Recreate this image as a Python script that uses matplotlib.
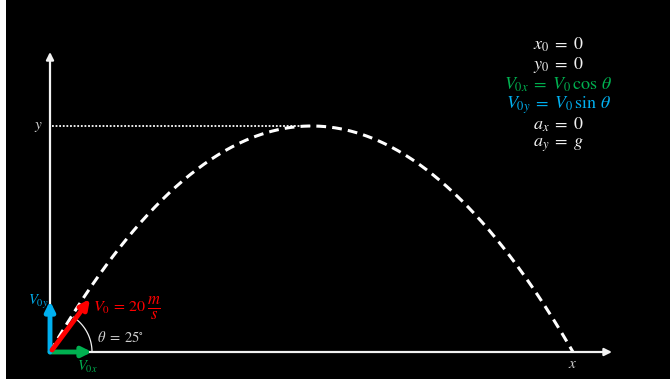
import numpy as np
import matplotlib
matplotlib.use("Agg")
import matplotlib.pyplot as plt

# projectile parameters (from the chart text)
V0 = 20.0          # m/s
THETA_DEG = 25.0   # launch angle
G = 9.8            # m/s^2

# equation panel (top right)
EQ_LINES = [
    r"$x_0 \;=\; 0$",
    r"$y_0 \;=\; 0$",
    r"$V_{0x} \;=\; V_0\,\cos\,\theta$",
    r"$V_{0y} \;=\; V_0\,\sin\,\theta$",
    r"$a_x \;=\; 0$",
    r"$a_y \;=\; g$",
]
EQ_COLORS = ["#f2f2f2", "#f2f2f2", "#00b050", "#00b0f0", "#f2f2f2", "#f2f2f2"]

WHITE = "#f2f2f2"
GREY = "#d0d0d0"
GREEN = "#00b050"
BLUE = "#00b0f0"
RED = "#ff0000"

plt.rcParams["mathtext.fontset"] = "stix"

theta = np.radians(THETA_DEG)
t_flight = 2 * V0 * np.sin(theta) / G
t = np.linspace(0, t_flight, 300)
traj_x = V0 * np.cos(theta) * t
traj_y = V0 * np.sin(theta) * t - 0.5 * G * t ** 2
R = traj_x[-1]
H = (V0 * np.sin(theta)) ** 2 / (2 * G)

# figure layout in pixels (origin of the diagram at 50, 352 from top-left)
W, HPX = 670, 379
OX, OY = 50, 352
sx = (573 - OX) / R      # px per metre horizontally
sy = (OY - 126) / H      # px per metre vertically

fig = plt.figure(figsize=(W / 100, HPX / 100), dpi=100, facecolor="white")
ax = fig.add_axes([6 / W, 0, (W - 6) / W, 1])
ax.set_facecolor("black")
ax.set_xlim((6 - OX) / sx, (W - OX) / sx)
ax.set_ylim(-(HPX - OY) / sy, OY / sy)
ax.set_xticks([])
ax.set_yticks([])
for s in ax.spines.values():
    s.set_visible(False)


def px(dx, dy):
    """pixel offset from origin (right, up) -> data coordinates"""
    return dx / sx, dy / sy


# axes arrows
ax.annotate("", xy=px(562, 0), xytext=(0, 0),
            arrowprops=dict(arrowstyle="-|>", color=WHITE, lw=1.6,
                            mutation_scale=11, shrinkA=0, shrinkB=0))
ax.annotate("", xy=px(0, 300), xytext=(0, 0),
            arrowprops=dict(arrowstyle="-|>", color=WHITE, lw=1.6,
                            mutation_scale=11, shrinkA=0, shrinkB=0))

# trajectory and max height guide
ax.plot(traj_x, traj_y, color="white", lw=2.2, dashes=(3.2, 2.0), zorder=2)
ax.plot([px(2, 0)[0], R / 2], [H, H], color="white", lw=1.3,
        linestyle=(0, (1, 1)), zorder=2)

ax.text(*px(-12, 226), r"$y$", color=GREY, fontsize=11, ha="center", va="center")
ax.text(R, px(0, -11)[1], r"$x$", color=GREY, fontsize=11, ha="center", va="center")

# angle arc
arc_a = np.radians(np.linspace(0, 56, 40))
ax.plot(42 * np.cos(arc_a) / sx, 42 * np.sin(arc_a) / sy, color=WHITE, lw=0.9, zorder=3)
ax.text(*px(47, 15), r"$\theta \;=\; 25^{\circ}$", color=GREY, fontsize=10.5,
        ha="left", va="center")

# velocity vectors
vec = dict(lw=3.5, mutation_scale=14, shrinkA=0, shrinkB=0)
ax.annotate("", xy=px(42, 0), xytext=(0, 0),
            arrowprops=dict(arrowstyle="-|>", color=GREEN, **vec), zorder=5)
ax.annotate("", xy=px(0, 51), xytext=(0, 0),
            arrowprops=dict(arrowstyle="-|>", color=BLUE, **vec), zorder=5)
ax.annotate("", xy=px(40, 53), xytext=px(2, 2),
            arrowprops=dict(arrowstyle="-|>", color=RED, **vec), zorder=6)

ax.text(*px(-12, 50), r"$V_{0y}$", color=BLUE, fontsize=10.5, ha="center", va="center")
ax.text(*px(37, -15), r"$V_{0x}$", color=GREEN, fontsize=10.5, ha="center", va="center")
ax.text(*px(43, 44), r"$V_0 \,=\, 20$", color=RED, fontsize=11.5,
        ha="left", va="center")
ax.text(*px(97, 44), r"$\frac{m}{s}$", color=RED, fontsize=17,
        ha="left", va="center")

# equations
for i, (line, c) in enumerate(zip(EQ_LINES, EQ_COLORS)):
    ax.text(*px(508, 307 - 20 * i), line, color=c, fontsize=13,
            ha="center", va="center")

fig.savefig("out.png", dpi=100, facecolor=fig.get_facecolor())
